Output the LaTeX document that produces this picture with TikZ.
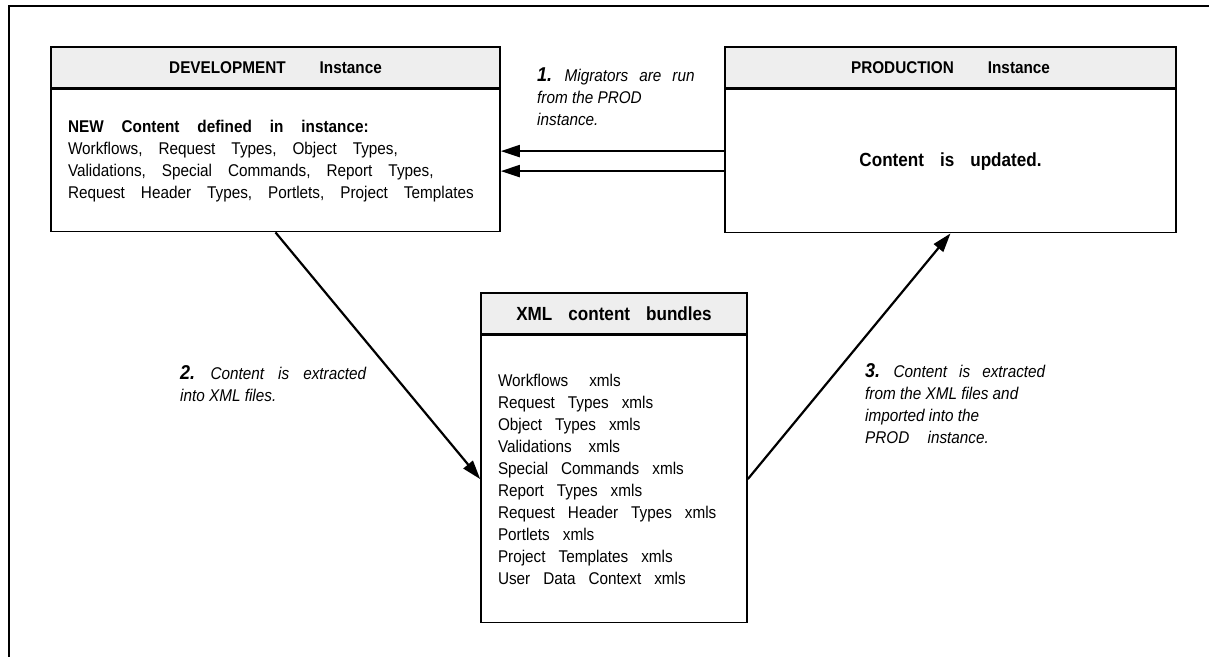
\documentclass[tikz,border=0pt]{standalone}
\usepackage{fontspec}
\setmainfont{Liberation Sans}[FakeStretch=0.9]
\usetikzlibrary{positioning,arrows.meta}
\definecolor{headgray}{RGB}{238,238,238}

\tikzset{
  headbox/.style={draw, line width=1.6pt, fill=headgray, minimum height=41pt, inner sep=0pt,
    font=\bfseries\fontsize{17}{20}\selectfont},
  bodybox/.style={draw, line width=1.6pt, fill=white, inner xsep=17pt, inner ysep=0pt, align=left,
    font=\fontsize{17}{22}\selectfont},
  note/.style={anchor=north west, inner sep=0pt, align=left,
    font=\itshape\fontsize{17}{22}\selectfont},
  flow/.style={-{Triangle[length=19pt,width=12pt]}, line width=2.2pt},
}
\newcommand{\stepno}[1]{{\bfseries\fontsize{20}{22}\selectfont #1}}
\newcommand{\wsp}[1]{\spaceskip=#1\relax}

\begin{document}
\begin{tikzpicture}[x=1pt,y=-1pt]
    \useasboundingbox (0,0) rectangle (1209,657);

    % Frame
    \draw[line width=1.6pt] (1209,6) -- (9,6) -- (9,657);

    % Instances
    \node[headbox, minimum width=449pt] (devhead) at (275.5,67.5) {DEVELOPMENT\hspace{34pt}Instance};
    \node[bodybox, below=0pt of devhead, text width=415pt, minimum height=142pt] (devbody)
        {\wsp{16pt}{\bfseries\wsp{18pt}NEW Content defined in instance:}\\
         Workflows, Request Types, Object Types,\\
         Validations, Special Commands, Report Types,\\
         Request Header Types, Portlets, Project Templates};

    \node[headbox, minimum width=451pt] (prodhead) at (950.5,67.5) {PRODUCTION\hspace{34pt}Instance};
    \node[bodybox, below=0pt of prodhead, minimum width=451pt, minimum height=143pt, align=center,
        font=\bfseries\fontsize{19}{22}\selectfont] (prodbody) {\wsp{16pt}Content is updated.};

    % Bundles
    \node[headbox, minimum width=266pt, font=\bfseries\fontsize{19}{20}\selectfont]
        (xmlhead) at (614,313.5) {\wsp{16pt}XML content bundles};
    \node[bodybox, below=0pt of xmlhead, text width=232pt, minimum height=287pt] (xmlbody)
        {\wsp{13pt}Workflows\hspace{8pt} xmls\\
         Request Types xmls\\
         Object Types xmls\\
         Validations\hspace{4pt} xmls\\
         Special Commands xmls\\
         Report Types xmls\\
         Request Header Types xmls\\
         Portlets xmls\\
         Project Templates xmls\\
         User Data Context xmls};

    % Flows
    \coordinate (mig1) at ([yshift=10pt]prodbody.west);
    \coordinate (mig2) at ([yshift=-10pt]prodbody.west);
    \draw[flow] (mig1) -- (mig1 -| devbody.east);
    \draw[flow] (mig2) -- (mig2 -| devbody.east);
    \draw[flow] (devbody.south) -- (xmlbody.west);
    \draw[flow] (xmlbody.east) -- (prodbody.south);

    % Labels
    \node[note] (step1) at (537,68) {\wsp{11pt}\stepno{1.} Migrators are run\\from the PROD\\instance.};
    \node[note] (step2) at (180,365) {\wsp{14pt}\stepno{2.} Content is extracted\\into XML files.};
    \node[note] (step3) at (865,363) {\wsp{12pt}\stepno{3.} Content is extracted\\from the XML files and\\imported into the\\PROD\hspace{14pt} instance.};
\end{tikzpicture}
\end{document}
